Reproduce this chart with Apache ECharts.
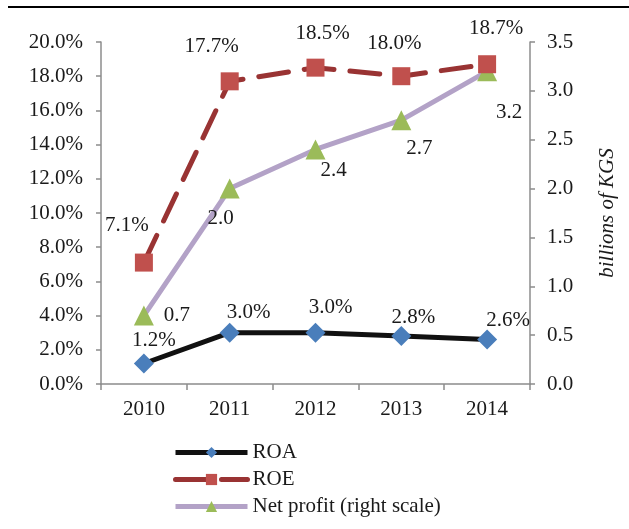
<!DOCTYPE html>
<html>
<head>
<meta charset="utf-8">
<script src="https://cdn.jsdelivr.net/npm/echarts@6/dist/echarts.min.js"></script>
<style>
  html, body { margin: 0; padding: 0; background: #fff; }
  #main { width: 629px; height: 529px; }
</style>
</head>
<body>
<div id="main"></div>
<script>
// chart data
const years = ['2010', '2011', '2012', '2013', '2014'];
const roa = [1.2, 3.0, 3.0, 2.8, 2.6];
const roe = [7.1, 17.7, 18.5, 18.0, 18.7];
const netProfit = [0.7, 2.0, 2.4, 2.7, 3.2];

// label offsets relative to each marker
const roaOffsets = [[10, -23], [19, -20], [15, -25], [12, -19], [21, -19]];
const roeOffsets = [[-17, -37], [-18, -35], [7, -34], [-7, -33], [9, -36]];
const npOffsets = [[33, 0], [-9, 30], [18, 21], [18, 28], [22, 41]];

const font = 'Liberation Serif';
const fs = 21;
const chart = echarts.init(document.getElementById('main'));

function withLabels(values, offsets, fmt) {
  return values.map((v, i) => ({
    value: v,
    label: {
      show: true,
      position: 'inside',
      offset: offsets[i],
      formatter: fmt(v),
      fontFamily: font,
      fontSize: fs,
      color: '#1a1a1a'
    }
  }));
}

const axisGray = '#8c8c8c';

const option = {
  animation: false,
  backgroundColor: '#fff',
  textStyle: { fontFamily: font },
  grid: { left: 101, right: 99, top: 42, bottom: 145 },
  graphic: [{
    type: 'line',
    shape: { x1: 8, y1: 7, x2: 629, y2: 7 },
    style: { stroke: '#000', lineWidth: 2 }
  }],
  legend: {
    orient: 'vertical',
    left: 168,
    top: 437,
    itemWidth: 72,
    itemHeight: 14,
    itemGap: 6,
    lineStyle: { width: 5 },
    textStyle: { fontFamily: font, fontSize: fs, color: '#1a1a1a' },
    data: ['ROA', 'ROE', 'Net profit (right scale)']
  },
  xAxis: {
    type: 'category',
    data: years,
    boundaryGap: true,
    axisLine: { lineStyle: { color: axisGray, width: 1.5 } },
    axisTick: { show: true, length: 6, lineStyle: { color: axisGray, width: 1.5 } },
    axisLabel: { fontFamily: font, fontSize: fs, color: '#1a1a1a', margin: 15 }
  },
  yAxis: [{
    type: 'value',
    min: 0,
    max: 20,
    interval: 2,
    splitLine: { show: false },
    axisLine: { show: true, lineStyle: { color: axisGray, width: 1.5 } },
    axisTick: { show: true, length: 5, lineStyle: { color: axisGray, width: 1.5 } },
    axisLabel: {
      fontFamily: font, fontSize: fs, color: '#1a1a1a', margin: 18,
      formatter: v => v.toFixed(1) + '%'
    }
  }, {
    type: 'value',
    min: 0,
    max: 3.5,
    interval: 0.5,
    position: 'right',
    name: 'billions of KGS',
    nameLocation: 'middle',
    nameGap: 67,
    nameRotate: 90,
    nameTextStyle: { fontFamily: font, fontSize: fs, fontStyle: 'italic', color: '#1a1a1a' },
    splitLine: { show: false },
    axisLine: { show: true, lineStyle: { color: axisGray, width: 1.5 } },
    axisTick: { show: true, length: 5, lineStyle: { color: axisGray, width: 1.5 } },
    axisLabel: {
      fontFamily: font, fontSize: fs, color: '#1a1a1a', margin: 17,
      formatter: v => v.toFixed(1)
    }
  }],
  series: [{
    name: 'Net profit (right scale)',
    type: 'line',
    yAxisIndex: 1,
    data: withLabels(netProfit, npOffsets, v => v.toFixed(1)),
    symbol: 'triangle',
    symbolSize: 20,
    itemStyle: { color: '#9bbb59' },
    lineStyle: { color: '#b3a2c7', width: 5 },
    z: 2
  }, {
    name: 'ROE',
    type: 'line',
    data: withLabels(roe, roeOffsets, v => v.toFixed(1) + '%'),
    symbol: 'rect',
    symbolSize: 18,
    itemStyle: { color: '#c0504d' },
    lineStyle: { color: '#993333', width: 5, type: [30, 16], cap: 'round' },
    z: 3
  }, {
    name: 'ROA',
    type: 'line',
    data: withLabels(roa, roaOffsets, v => v.toFixed(1) + '%'),
    symbol: 'diamond',
    symbolSize: 20,
    itemStyle: { color: '#4a7ebb' },
    lineStyle: { color: '#111', width: 5 },
    z: 4
  }]
};

chart.setOption(option);
</script>
</body>
</html>
